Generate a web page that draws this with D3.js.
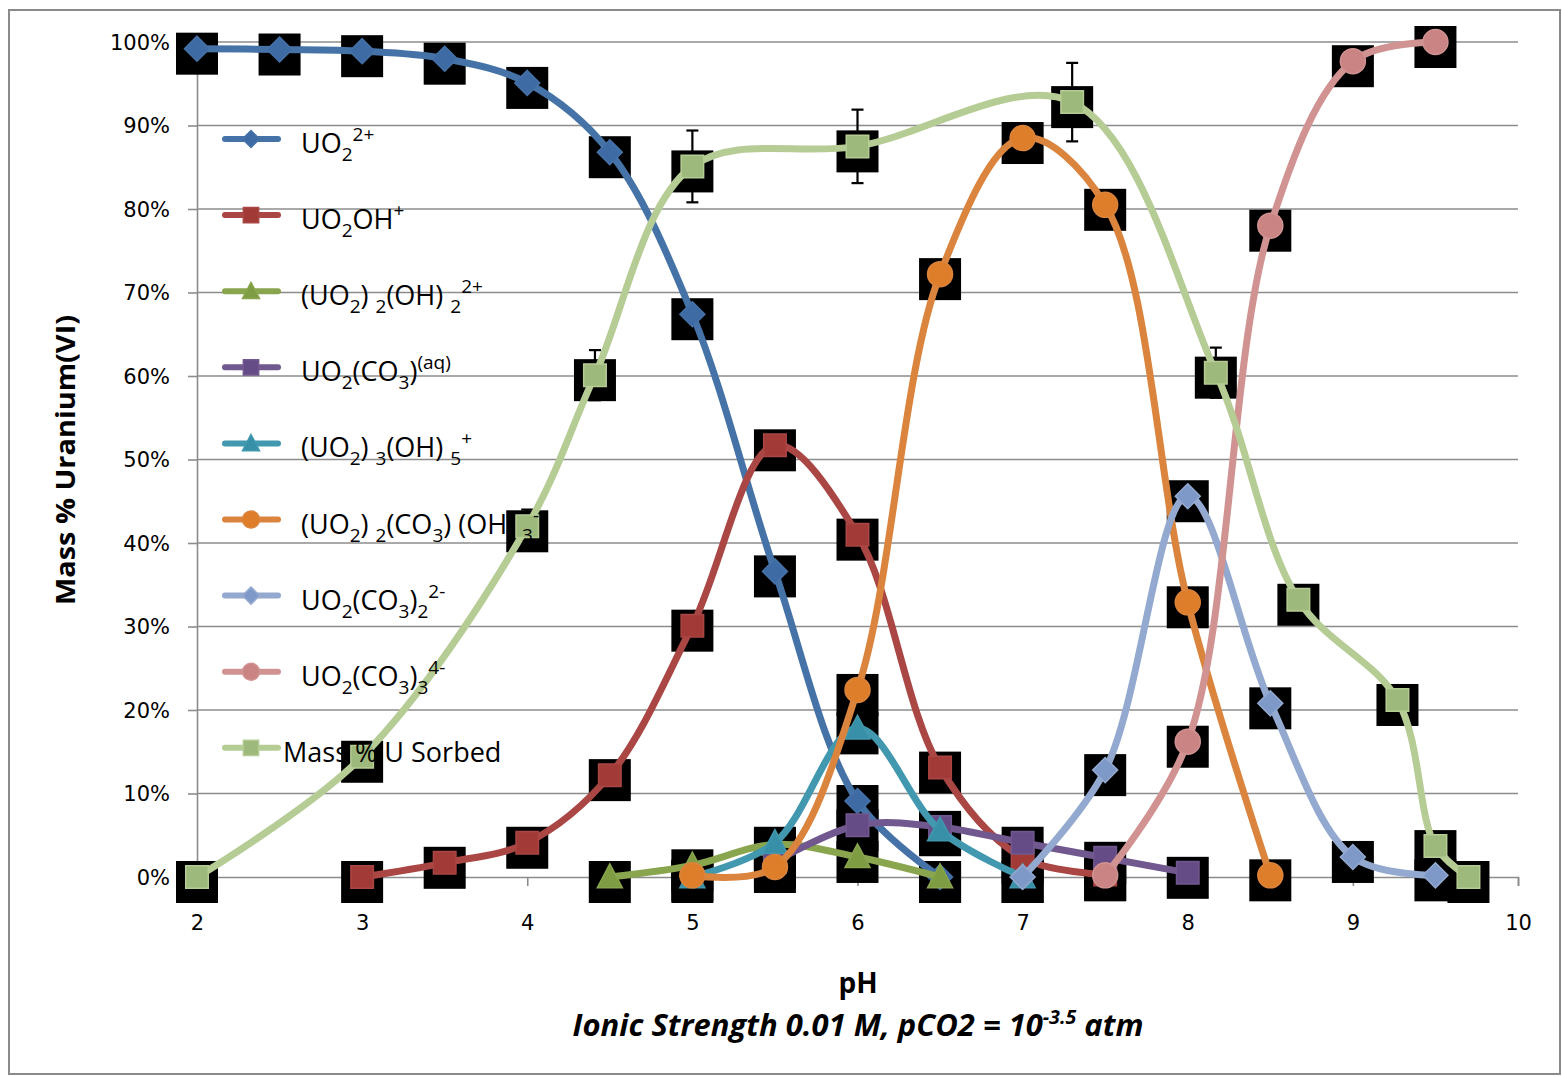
<!DOCTYPE html>
<html><head><meta charset="utf-8">
<script src="https://cdn.jsdelivr.net/npm/d3@7"></script>
<style>
html,body{margin:0;padding:0;background:#fff;}
svg text{font-family:"Open Sans",sans-serif;}
</style></head>
<body><svg id="c" width="1562" height="1077"></svg>
<script>
// ---------- data ----------
const seriesNames = [
  "UO_{2}^{2+}",
  "UO_{2}OH^{+}",
  "(UO_{2}) _{2}(OH) _{2}^{2+}",
  "UO_{2}(CO_{3})^{(aq)}",
  "(UO_{2}) _{3}(OH) _{5}^{+}",
  "(UO_{2}) _{2}(CO_{3}) (OH) _{3}^{-}",
  "UO_{2}(CO_{3})_{2}^{2-}",
  "UO_{2}(CO_{3})_{3}^{4-}",
  "Mass % U Sorbed"
];
const uo2_x = [2,2.5,3,3.5,4,4.5,5,5.5,6,6.5];
const uo2_y = [99.2,99.1,98.9,98.0,95.1,86.8,67.4,36.6,9.1,0];
const uo2oh_x = [3,3.5,4,4.5,5,5.5,6,6.5,7,7.5];
const uo2oh_y = [0,1.7,4.1,12.2,30.1,51.7,41.0,13.1,2.3,0.3];
const uo2_2oh2_x = [4.5,5,5.5,6,6.5];
const uo2_2oh2_y = [0,1.4,3.9,2.4,0];
const uo2co3_x = [5.5,6,6.5,7,7.5,8];
const uo2co3_y = [1.8,6.2,6.0,4.1,2.3,0.5];
const uo2_3oh5_x = [5,5.5,6,6.5,7];
const uo2_3oh5_y = [0,4.1,17.8,5.6,0];
const uo2_2co3oh3_x = [5,5.5,6,6.5,7,7.5,8,8.5];
const uo2_2co3oh3_y = [0.2,1.2,22.4,72.2,88.5,80.5,32.9,0.2];
const uo2co32_x = [7,7.5,8,8.5,9,9.5];
const uo2co32_y = [0,12.8,45.6,20.8,2.4,0.2];
const uo2co33_x = [7.5,8,8.5,9,9.5];
const uo2co33_y = [0.2,16.2,78.0,97.7,100];
const sorbed_x = [2,3,4,4.41,5,6,7.3,8.17,8.67,9.27,9.5,9.7];
const sorbed_y = [0,14.4,42.0,60.1,85.1,87.5,92.8,60.4,33.2,21.2,3.7,0];
const sorbed_err = [0,0,2,3,4.3,4.4,4.7,3,0,0,0,0];
const xTicks = [2,3,4,5,6,7,8,9,10];
const yTicks = [0,10,20,30,40,50,60,70,80,90,100];

// ---------- styling ----------
const colors = ["#4572A7","#AA4643","#89A54E","#71588F","#4198AF","#DB843D","#93A9CF","#D19392","#B6CC95"];
const markerFill = ["#3F6BA5","#A23B38","#7E9D43","#654C86","#3890A8","#DE7E2A","#7E99C8","#C98483","#9DB97B"];
const markers = ["diamond","square","triangle","square","triangle","circle","diamond","circle","square"];
const xs = [uo2_x,uo2oh_x,uo2_2oh2_x,uo2co3_x,uo2_3oh5_x,uo2_2co3oh3_x,uo2co32_x,uo2co33_x,sorbed_x];
const ys = [uo2_y,uo2oh_y,uo2_2oh2_y,uo2co3_y,uo2_3oh5_y,uo2_2co3oh3_y,uo2co32_y,uo2co33_y,sorbed_y];
const series = seriesNames.map((n,i)=>({name:n,i,pts:xs[i].map((x,j)=>({x,y:ys[i][j]}))}));

const svg = d3.select("#c");
const L=197,R=1518,T=42,B=877;
const x = d3.scaleLinear().domain([2,10]).range([L,R]);
const y = d3.scaleLinear().domain([0,100]).range([B,T]);

// outer border
svg.append("rect").attr("x",9).attr("y",10).attr("width",1551).attr("height",1064)
  .attr("fill","#fff").attr("stroke","#8a8a8a").attr("stroke-width",2);

// gridlines
svg.append("g").selectAll("line").data(yTicks.filter(d=>d>0)).join("line")
  .attr("x1",L).attr("x2",R).attr("y1",d=>y(d)).attr("y2",d=>y(d))
  .attr("stroke","#8c8c8c").attr("stroke-width",1.6);

// axes
const yAxis = d3.axisLeft(y).tickValues(yTicks).tickFormat(d=>d+"%").tickSize(9).tickPadding(18);
const gy = svg.append("g").attr("transform",`translate(${L},0)`).call(yAxis);
const xAxis = d3.axisBottom(x).tickValues(xTicks).tickFormat(d3.format("d")).tickSize(9).tickPadding(29);
const gx = svg.append("g").attr("transform",`translate(0,${B})`).call(xAxis);
[gx,gy].forEach(g=>{
  g.select(".domain").attr("stroke","#8c8c8c").attr("stroke-width",1.6);
  g.selectAll(".tick line").attr("stroke","#8c8c8c").attr("stroke-width",1.6);
  g.selectAll(".tick text").attr("fill","#000").style("font-family","'DejaVu Sans',sans-serif").style("font-size","21px");
});
gy.selectAll(".tick text").attr("dy","0.35em");

// black square backdrops
const sq = 42;
const bg = svg.append("g");
series.forEach(s=>{
  bg.selectAll(null).data(s.pts).join("rect")
    .attr("x",d=>x(d.x)-sq/2).attr("y",d=>y(d.y)-sq/2+5)
    .attr("width",sq).attr("height",sq).attr("fill","#000");
});

// error bars (sorbed)
const eb = svg.append("g").attr("stroke","#000").attr("stroke-width",2.2);
sorbed_x.forEach((px,j)=>{
  const e = sorbed_err[j]; if(!e) return;
  const cx = x(px), y1 = y(sorbed_y[j]+e), y2 = y(sorbed_y[j]-e);
  eb.append("line").attr("x1",cx).attr("x2",cx).attr("y1",y1).attr("y2",y2);
  eb.append("line").attr("x1",cx-6).attr("x2",cx+6).attr("y1",y1).attr("y2",y1);
  eb.append("line").attr("x1",cx-6).attr("x2",cx+6).attr("y1",y2).attr("y2",y2);
});

function markerPath(type,size){
  const h=size/2;
  if(type==="diamond") return `M0,${-h}L${h},0L0,${h}L${-h},0Z`;
  if(type==="square") return `M${-h*0.9},${-h*0.9}H${h*0.9}V${h*0.9}H${-h*0.9}Z`;
  if(type==="triangle") return `M0,${-h*1.05}L${h},${h*0.85}L${-h},${h*0.85}Z`;
  return null;
}
function drawMarker(g,type,cx,cy,size,i){
  if(type==="circle"){
    g.append("circle").attr("cx",cx).attr("cy",cy).attr("r",size/2)
      .attr("fill",markerFill[i]).attr("stroke",colors[i]).attr("stroke-width",1.5);
  } else {
    g.append("path").attr("d",markerPath(type,size)).attr("transform",`translate(${cx},${cy})`)
      .attr("fill",markerFill[i]).attr("stroke",colors[i]).attr("stroke-width",1.5);
  }
}

const line = d3.line().x(d=>x(d.x)).y(d=>y(d.y)).curve(d3.curveCatmullRom.alpha(0.5));
series.forEach(s=>{
  const g = svg.append("g");
  g.append("path").attr("d",line(s.pts)).attr("fill","none")
    .attr("stroke",colors[s.i]).attr("stroke-width",7).attr("stroke-linecap","round").attr("stroke-linejoin","round");
  s.pts.forEach(p=>drawMarker(g,markers[s.i],x(p.x),y(p.y),25,s.i));
});

// legend
function richText(sel,str){
  const re = /([_^])\{([^}]*)\}|([^_^]+)/g; let m, state="n";
  while((m=re.exec(str))){
    if(m[3]!==undefined){
      const dy = state==="sub"?-8:state==="sup"?12:0;
      sel.append("tspan").attr("dy",dy).text(m[3]); state="n";
    } else {
      const t = m[1]==="_"?"sub":"sup";
      let dy;
      if(t==="sub") dy = state==="sup"?20:state==="sub"?0:8;
      else dy = state==="sub"?-20:state==="sup"?0:-12;
      sel.append("tspan").attr("dy",dy).style("font-size","19px").text(m[2]); state=t;
    }
  }
}
const lg = svg.append("g");
series.forEach((s,k)=>{
  const ly = 139 + k*76.1;
  lg.append("line").attr("x1",225).attr("x2",278).attr("y1",ly).attr("y2",ly)
    .attr("stroke",colors[s.i]).attr("stroke-width",6).attr("stroke-linecap","round");
  drawMarker(lg,markers[s.i],251,ly,17,s.i);
  const t = lg.append("text").attr("x",k===8?283:301).attr("y",ly+14)
    .style("font-size","27px").attr("fill","#000");
  richText(t,s.name);
});

// axis titles
svg.append("text").attr("transform","translate(75,460) rotate(-90)").attr("text-anchor","middle")
  .style("font-size","27px").style("font-weight","bold").attr("textLength",290).attr("lengthAdjust","spacingAndGlyphs")
  .text("Mass % Uranium(VI)");
svg.append("text").attr("x",858).attr("y",993).attr("text-anchor","middle")
  .style("font-size","28px").style("font-weight","bold").text("pH");
const st = svg.append("text").attr("x",858).attr("y",1036).attr("text-anchor","middle")
  .style("font-size","30px").style("font-weight","bold").style("font-style","italic")
  .attr("textLength",571).attr("lengthAdjust","spacingAndGlyphs");
st.append("tspan").text("Ionic Strength 0.01 M, pCO2 = 10");
st.append("tspan").attr("dy",-12).style("font-size","19px").text("-3.5");
st.append("tspan").attr("dy",12).text(" atm");
</script></body></html>
